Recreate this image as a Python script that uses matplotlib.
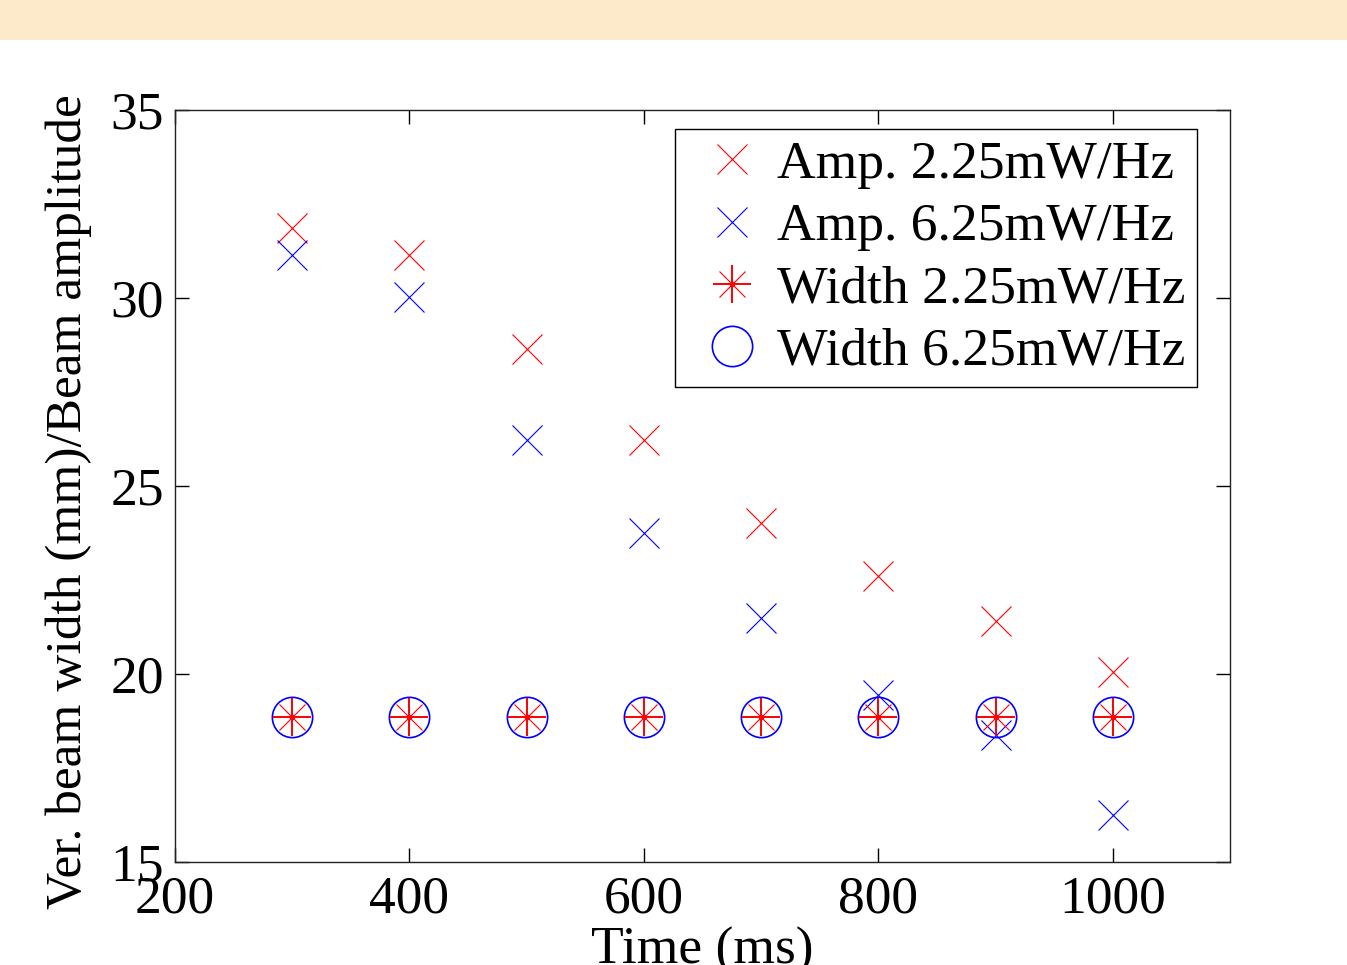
import matplotlib
matplotlib.use("Agg")
import matplotlib.pyplot as plt
from matplotlib.legend_handler import HandlerTuple

# Mesures : temps (ms) et amplitude / largeur du faisceau
temps = [300, 400, 500, 600, 700, 800, 900, 1000]
amp_225 = [31.86, 31.14, 28.64, 26.22, 24.02, 22.61, 21.41, 20.05]
amp_625 = [31.14, 30.03, 26.22, 23.75, 21.49, 19.44, 18.38, 16.25]
largeur_225 = [18.86] * 8
largeur_625 = [18.86] * 8

plt.rcParams["font.family"] = ["Liberation Serif", "DejaVu Serif"]
plt.rcParams["font.size"] = 38.5

fig = plt.figure(figsize=(13.47, 9.65), dpi=100)
# bandeau en haut de la page
fig.patches.append(plt.Rectangle((0, 1 - 40 / 965), 1, 40 / 965, transform=fig.transFigure,
                                 facecolor="#fdeacb", edgecolor="none"))
ax = fig.add_axes([175 / 1347, 103 / 965, 1055 / 1347, 752 / 965])

lw = 0.8
h1, = ax.plot(temps, amp_225, ls="none", marker="x", ms=21, mew=lw, color="#ff0000")
h2, = ax.plot(temps, amp_625, ls="none", marker="x", ms=21, mew=lw, color="#0000ff")
# asterisque façon MATLAB : croix + diagonales + point central
h3a, = ax.plot(temps, largeur_225, ls="none", marker="+", ms=27, mew=1.4, color="#ff0000", zorder=4)
h3b, = ax.plot(temps, largeur_225, ls="none", marker="x", ms=19, mew=lw, color="#ff0000", zorder=4)
h3c, = ax.plot(temps, largeur_225, ls="none", marker="o", ms=4, mew=0, color="#ff0000", zorder=4)
h4, = ax.plot(temps, largeur_625, ls="none", marker="o", ms=29, mew=1.2, mfc="none", color="#0000ff", zorder=3)

ax.set_xlim(200, 1100)
ax.set_ylim(15, 35)
ax.set_xticks([200, 400, 600, 800, 1000])
ax.set_yticks([15, 20, 25, 30, 35])
ax.tick_params(direction="in", length=10, width=1, top=True, right=True)
ax.tick_params(axis="x", pad=10)
ax.tick_params(axis="y", pad=8)
for s in ax.spines.values():
    s.set_linewidth(1)
    s.set_color("#222222")

ax.set_xlabel("Time (ms)", labelpad=2)
ax.set_ylabel("Ver. beam width (mm)/Beam amplitude", fontsize=37)
ax.yaxis.set_label_coords(-0.079, 0.479)

leg = ax.legend([h1, h2, (h3a, h3b, h3c), h4],
                ["Amp. 2.25mW/Hz", "Amp. 6.25mW/Hz", "Width 2.25mW/Hz", "Width 6.25mW/Hz"],
                handler_map={tuple: HandlerTuple(ndivide=1)},
                loc="upper right", bbox_to_anchor=(0.9687, 0.9747), fancybox=False,
                edgecolor="black", framealpha=1, handlelength=1.7, handletextpad=0.0,
                labelspacing=0.26, borderpad=0.215, borderaxespad=0)
leg.get_frame().set_linewidth(1)

fig.savefig("out.png", dpi=100)
